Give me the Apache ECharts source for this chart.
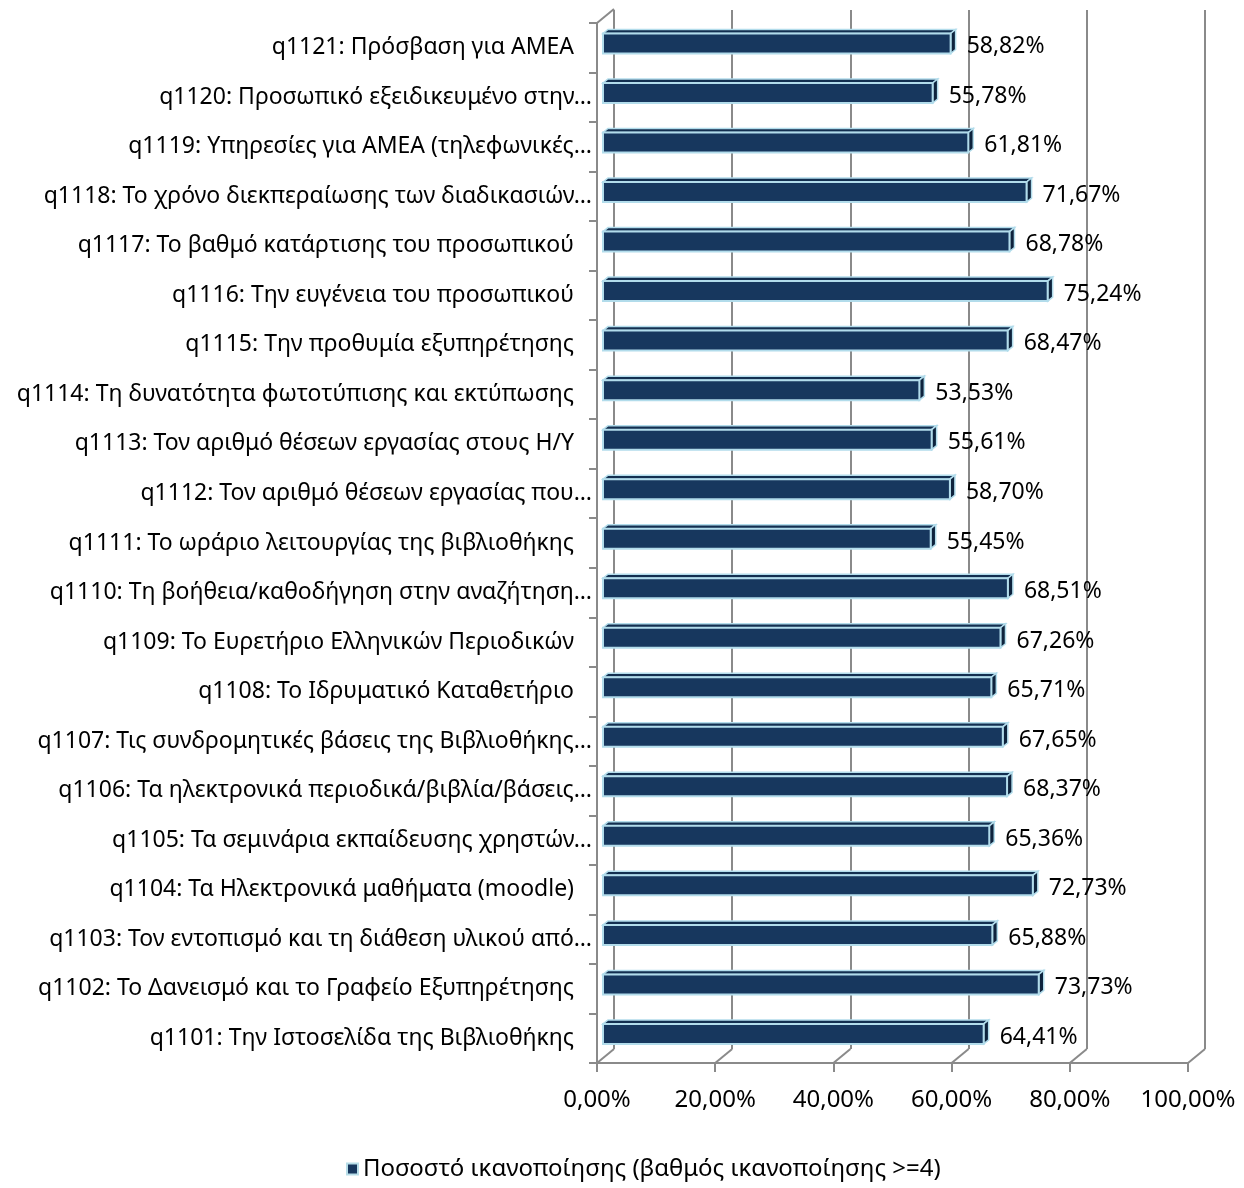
<!DOCTYPE html>
<html><head><meta charset="utf-8">
<script src="https://cdn.jsdelivr.net/npm/echarts@6/dist/echarts.min.js"></script>
<style>html,body{margin:0;padding:0;background:#fff}#c{width:1244px;height:1188px}</style>
</head><body><div id="c"></div>
<script>
const categories = [
"q1101: Την Ιστοσελίδα της Βιβλιοθήκης",
"q1102: Το Δανεισμό και το Γραφείο Εξυπηρέτησης",
"q1103: Τον εντοπισμό και τη διάθεση υλικού από…",
"q1104: Τα Ηλεκτρονικά μαθήματα (moodle)",
"q1105: Τα σεμινάρια εκπαίδευσης χρηστών…",
"q1106: Τα ηλεκτρονικά περιοδικά/βιβλία/βάσεις…",
"q1107: Τις συνδρομητικές βάσεις της Βιβλιοθήκης…",
"q1108: Το Ιδρυματικό Καταθετήριο",
"q1109: Το Ευρετήριο Ελληνικών Περιοδικών",
"q1110: Τη βοήθεια/καθοδήγηση στην αναζήτηση…",
"q1111: Το ωράριο λειτουργίας της βιβλιοθήκης",
"q1112: Τον αριθμό θέσεων εργασίας που…",
"q1113: Τον αριθμό θέσεων εργασίας στους Η/Υ",
"q1114: Τη δυνατότητα φωτοτύπισης και εκτύπωσης",
"q1115: Την προθυμία εξυπηρέτησης",
"q1116: Την ευγένεια του προσωπικού",
"q1117: Το βαθμό κατάρτισης του προσωπικού",
"q1118: Το χρόνο διεκπεραίωσης των διαδικασιών…",
"q1119: Υπηρεσίες για ΑΜΕΑ (τηλεφωνικές…",
"q1120: Προσωπικό εξειδικευμένο στην…",
"q1121: Πρόσβαση για ΑΜΕΑ"
];
const values = [64.41,73.73,65.88,72.73,65.36,68.37,67.65,65.71,67.26,68.51,55.45,58.70,55.61,53.53,68.47,75.24,68.78,71.67,61.81,55.78,58.82];
const xTicks = [0,20,40,60,80,100];
const seriesName = "Ποσοστό ικανοποίησης (βαθμός ικανοποίησης >=4)";

const FONT = "'Noto Sans', 'Open Sans', sans-serif";
const FS = 23;
const FS_AX = 24;
const GRID_COLOR = '#8a8a8a';
const DX = 17, DY = -14;      // depth of the floor/walls
const BDX = 5, BDY = -4;      // depth of the bars
const fmt = v => v.toFixed(2).replace('.', ',') + '%';

const chart = echarts.init(document.getElementById('c'));
chart.setOption({
  animation: false,
  textStyle: {fontFamily: FONT},
  grid: [
    {left: 597, right: 56, top: 23, height: 1040},
    {left: 614, right: 39, top: 10, height: 1039}
  ],
  xAxis: [
    {gridIndex: 0, type: 'value', min: 0, max: 100, interval: 20,
     axisLine: {show: true, lineStyle: {color: GRID_COLOR, width: 2}},
     axisTick: {show: true, length: 9, lineStyle: {color: GRID_COLOR, width: 2}},
     splitLine: {show: false},
     axisLabel: {margin: 25, fontSize: FS_AX, color: '#000', fontFamily: FONT, formatter: v => fmt(v)}},
    {gridIndex: 1, type: 'value', min: 0, max: 100, interval: 20,
     axisLine: {show: false}, axisTick: {show: false}, axisLabel: {show: false},
     splitLine: {show: true, lineStyle: {color: GRID_COLOR, width: 2}}}
  ],
  yAxis: [
    {gridIndex: 0, type: 'category', data: categories,
     axisLine: {show: true, lineStyle: {color: GRID_COLOR, width: 2}},
     axisTick: {show: true, length: 8, lineStyle: {color: GRID_COLOR, width: 2}},
     axisLabel: {margin: 5, fontSize: FS, color: '#000', fontFamily: FONT,
       formatter: v => v.endsWith('…') ? '{e|' + v + '}' : '{n|' + v + '}',
       rich: {e: {fontSize: FS, fontFamily: FONT, color: '#000'},
              n: {fontSize: FS, fontFamily: FONT, color: '#000', padding: [0, 18, 0, 0]}}}},
    {gridIndex: 1, type: 'category', data: categories, show: false}
  ],
  legend: {
    bottom: 2, left: 341, icon: 'rect', itemWidth: 11, itemHeight: 11, itemGap: 4,
    textStyle: {fontSize: FS_AX, color: '#000', fontFamily: FONT},
    data: [seriesName]
  },
  series: [
    {
      type: 'custom', name: 'walls', xAxisIndex: 0, yAxisIndex: 0, silent: true,
      data: xTicks.map(v => [v]),
      renderItem: function (params, api) {
        const cs = params.coordSys;
        const x = api.coord([api.value(0), 0])[0];
        const yb = cs.y + cs.height;
        const children = [{type: 'line', shape: {x1: x, y1: yb, x2: x + DX, y2: yb + DY},
          style: {stroke: GRID_COLOR, lineWidth: 2}}];
        if (params.dataIndex === 0) {
          children.push({type: 'line', shape: {x1: x, y1: cs.y, x2: x + DX, y2: cs.y + DY},
            style: {stroke: GRID_COLOR, lineWidth: 2}});
        }
        return {type: 'group', children};
      },
      z: 1
    },
    {
      type: 'custom', name: seriesName, xAxisIndex: 0, yAxisIndex: 0,
      itemStyle: {color: '#17375E', borderColor: '#B7DDE8', borderWidth: 1},
      data: values.map((v, i) => [i, v]),
      encode: {x: 1, y: 0},
      renderItem: function (params, api) {
        const idx = api.value(0), v = api.value(1);
        const p0 = api.coord([0, idx]);
        const p1 = api.coord([v, idx]);
        const x0 = p0[0] + 6, x1 = p1[0] + 6;
        const yc = p0[1] - 4.3;
        const h = 20;
        const yt = yc - h / 2, ybt = yc + h / 2;
        const stroke = '#B2DCEB';
        return {type: 'group', children: [
          {type: 'polygon', shape: {points: [[x0, yt], [x0 + BDX, yt + BDY], [x1 + BDX, yt + BDY], [x1, yt]]},
           style: {fill: '#132F50', stroke: stroke, lineWidth: 1.5}},
          {type: 'polygon', shape: {points: [[x1, yt], [x1 + BDX, yt + BDY], [x1 + BDX, ybt + BDY], [x1, ybt]]},
           style: {fill: '#0E233D', stroke: stroke, lineWidth: 1.5}},
          {type: 'rect', shape: {x: x0, y: yt, width: x1 - x0, height: h},
           style: {fill: '#17375E', stroke: stroke, lineWidth: 2}},
          {type: 'text', x: x1 + 16, y: p0[1] - 1,
           style: {text: fmt(v), fill: '#000', fontSize: FS, fontFamily: FONT, verticalAlign: 'middle', align: 'left'}}
        ]};
      },
      z: 3
    }
  ]
});
</script></body></html>
